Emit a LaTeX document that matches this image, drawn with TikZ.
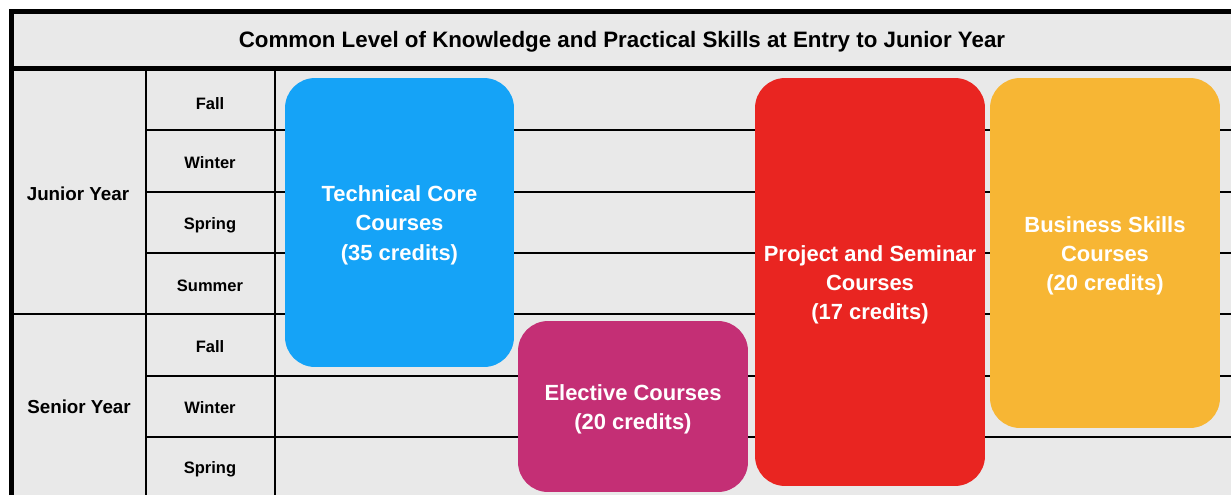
\documentclass[tikz,border=0pt]{standalone}
\usepackage{fontspec}
\setmainfont{Liberation Sans}
\definecolor{bggray}{RGB}{233,233,233}
\definecolor{techblue}{RGB}{21,163,247}
\definecolor{electmag}{RGB}{196,47,117}
\definecolor{projred}{RGB}{233,37,33}
\definecolor{busorange}{RGB}{247,182,52}

\begin{document}
\begin{tikzpicture}[x=0.02cm,y=-0.02cm,
	course/.style={rounded corners=0.6cm, inner sep=0pt},
	coursetxt/.style={text=white, align=center, yshift=-1.6pt,
		font=\fontsize{12.5}{16.7}\selectfont\bfseries},
	yearlbl/.style={font=\fontsize{10.7}{13}\selectfont\bfseries},
	termlbl/.style={font=\fontsize{9.4}{11}\selectfont\bfseries},
	gridline/.style={line width=0.85pt},
	frameline/.style={line width=2.4pt}]
		\useasboundingbox (0,0) rectangle (1231,495);
		\fill[white] (0,0) rectangle (1231,495);
		\fill[bggray] (11,11) rectangle (1231,495);
		%
		% header
		\node[font=\fontsize{12.7}{15}\selectfont\bfseries] (title) at (622,41.5)
			{Common Level of Knowledge and Practical Skills at Entry to Junior Year};
		%
		% table grid
		\foreach \y in {130,192,253,376,437}
			\draw[gridline] (145,\y) -- (1231,\y);
		\draw[gridline] (13,314) -- (1231,314);
		\draw[gridline] (146,70) -- (146,495);
		\draw[gridline] (275,70) -- (275,495);
		\draw[frameline] (11.5,495) -- (11.5,11.5) -- (1231,11.5);
		\draw[frameline] (11.5,68.5) -- (1231,68.5);
		%
		% years and terms
		\node[yearlbl] (jun) at (78,194) {Junior Year};
		\node[yearlbl] (sen) at (79,407) {Senior Year};
		\foreach \t/\y [count=\i] in {Fall/104,Winter/163,Spring/225,Summer/286,Fall/347,Winter/408,Spring/469}
			\node[termlbl] (t\i) at (210,\y) {\t};
		%
		% course blocks
		\node[course, fill=techblue, minimum width=4.58cm, minimum height=5.78cm,
			label={[coursetxt]center:{Technical Core\\Courses\\(35 credits)}}]
			(tech) at (399.5,222.5) {};
		\node[course, fill=electmag, minimum width=4.6cm, minimum height=3.42cm,
			label={[coursetxt]center:{Elective Courses\\(20 credits)}}]
			(elect) at (633,406.5) {};
		\node[course, fill=projred, minimum width=4.6cm, minimum height=8.16cm,
			label={[coursetxt]center:{Project and Seminar\\Courses\\(17 credits)}}]
			(proj) at (870,282) {};
		\node[course, fill=busorange, minimum width=4.6cm, minimum height=7.0cm,
			label={[coursetxt]center:{Business Skills\\Courses\\(20 credits)}}]
			(bus) at (1105,253) {};
	\end{tikzpicture}
\end{document}
